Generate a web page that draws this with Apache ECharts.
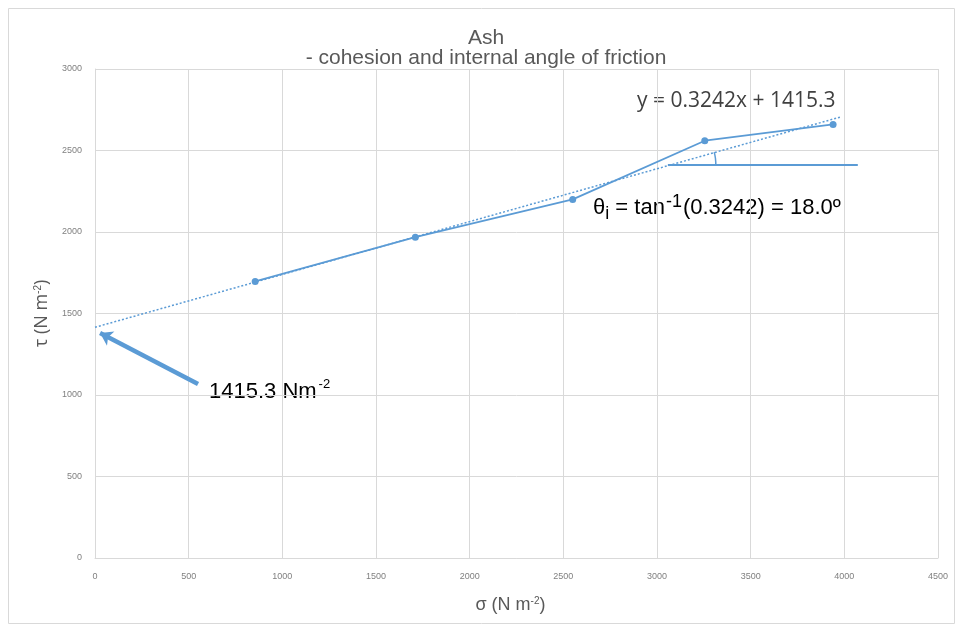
<!DOCTYPE html>
<html><head><meta charset="utf-8">
<script src="https://cdn.jsdelivr.net/npm/echarts@6/dist/echarts.min.js"></script>
<style>html,body{margin:0;padding:0;background:#fff}#c{width:961px;height:630px}</style>
</head><body><div id="c"></div>
<script>
// Data
const sigma = [855, 1710, 2550, 3255, 3940];
const tau = [1697, 1968, 2200, 2560, 2660];
const trendSlope = 0.3242, trendIntercept = 1415.3;
const trendX = [0, 3980];
const arrowFrom = [550, 1067];
const arrowTo = [27, 1380];
const horizLineX = [3058, 4072];
const horizLineY = 2411;
const arcX = [3314, 3312, 3305];
const arcY = [2411, 2452, 2490];
const xTicks = [0, 500, 1000, 1500, 2000, 2500, 3000, 3500, 4000, 4500];
const yTicks = [0, 500, 1000, 1500, 2000, 2500, 3000];

const blue = '#5b9bd5';
const txt = '#404040';
const arial = 'Liberation Sans, Arial, sans-serif';
const chart = echarts.init(document.getElementById('c'));
chart.setOption({
  animation: false,
  grid: {left: 95, right: 23, top: 69, bottom: 72, show: false},
  xAxis: {
    type: 'value', min: xTicks[0], max: xTicks[xTicks.length - 1], interval: 500,
    axisLine: {show: true, lineStyle: {color: '#d9d9d9'}},
    axisTick: {show: false},
    splitLine: {show: true, lineStyle: {color: '#d9d9d9'}},
    axisLabel: {color: '#808080', fontSize: 9, fontFamily: 'Liberation Sans Narrow, sans-serif', margin: 14, formatter: v => String(v)},
    name: '{a|σ (N m}{s|-2}{a|)}', nameLocation: 'middle', nameGap: 38,
    nameTextStyle: {padding: [0, 0, 0, -12], rich: {a: {fontSize: 18, color: '#595959', fontFamily: 'Liberation Sans Narrow, sans-serif'}, s: {fontSize: 10, color: '#595959', verticalAlign: 'top', padding: [0, 0, 8, 0]}}}
  },
  yAxis: {
    type: 'value', min: yTicks[0], max: yTicks[yTicks.length - 1], interval: 500,
    axisLine: {show: true, lineStyle: {color: '#d9d9d9'}},
    axisTick: {show: false},
    splitLine: {show: true, lineStyle: {color: '#d9d9d9'}},
    axisLabel: {color: '#808080', fontSize: 9, fontFamily: 'Liberation Sans Narrow, sans-serif', margin: 13, formatter: v => String(v)},
    name: '{a|τ (N m}{s|-2}{a|)}', nameLocation: 'middle', nameGap: 44, nameRotate: 90,
    nameTextStyle: {rich: {a: {fontSize: 18, color: '#595959', fontFamily: 'Open Sans, sans-serif'}, s: {fontSize: 10, color: '#595959', verticalAlign: 'top', padding: [0, 0, 8, 0]}}}
  },
  series: [
    {type: 'line', data: sigma.map((x, i) => [x, tau[i]]), symbol: 'circle', symbolSize: 7,
     itemStyle: {color: blue}, lineStyle: {color: blue, width: 1.8}, z: 5},
    {type: 'line', data: trendX.map(x => [x, trendSlope * x + trendIntercept]), symbol: 'none',
     lineStyle: {color: blue, width: 1.5, type: [2, 2]}, z: 4},
    {type: 'line', data: horizLineX.map(x => [x, horizLineY]), symbol: 'none',
     lineStyle: {color: blue, width: 1.8}},
    {type: 'line', data: arcX.map((x, i) => [x, arcY[i]]), symbol: 'none', smooth: true,
     lineStyle: {color: blue, width: 1.5}},
    {type: 'lines', coordinateSystem: 'cartesian2d', symbol: ['none', 'arrow'], symbolSize: [0, 12],
     lineStyle: {color: blue, width: 4.5, opacity: 1},
     data: [{coords: [arrowFrom, arrowTo]}]}
  ],
  graphic: [
    {type: 'rect', shape: {x: 8.5, y: 8.5, width: 946, height: 615}, style: {fill: 'none', stroke: '#d9d9d9', lineWidth: 1}, silent: true},
    {type: 'text', x: 486, y: 38, style: {text: 'Ash', fontSize: 21, fill: '#595959', fontFamily: arial, textAlign: 'center', textVerticalAlign: 'middle'}},
    {type: 'text', x: 486, y: 58, style: {text: '- cohesion and internal angle of friction', fontSize: 21, fill: '#595959', fontFamily: arial, textAlign: 'center', textVerticalAlign: 'middle'}},
    {type: 'text', left: 637, top: 91, style: {text: 'y = 0.3242x + 1415.3', fontSize: 21, fill: txt, fontFamily: 'Open Sans, sans-serif'}},
    {type: 'text', left: 593, top: 193, style: {
      text: '{a|θ}{b|i}{a| = tan}{s|-1}{a|(0.3242) = 18.0º}',
      rich: {a: {fontSize: 22, color: txt, fontFamily: arial},
             b: {fontSize: 18, color: txt, verticalAlign: 'bottom', padding: [12, 0, 0, 0], fontFamily: arial},
             s: {fontSize: 18, color: txt, verticalAlign: 'top', padding: [0, 1, 12, 1], fontFamily: arial}}}},
    {type: 'text', left: 209, top: 378, style: {
      text: '{a|1415.3 Nm}{s|-2}',
      rich: {a: {fontSize: 22, color: txt, fontFamily: arial},
             s: {fontSize: 13, color: txt, verticalAlign: 'top', padding: [0, 0, 14, 2], fontFamily: arial}}}}
  ]
});
</script></body></html>
